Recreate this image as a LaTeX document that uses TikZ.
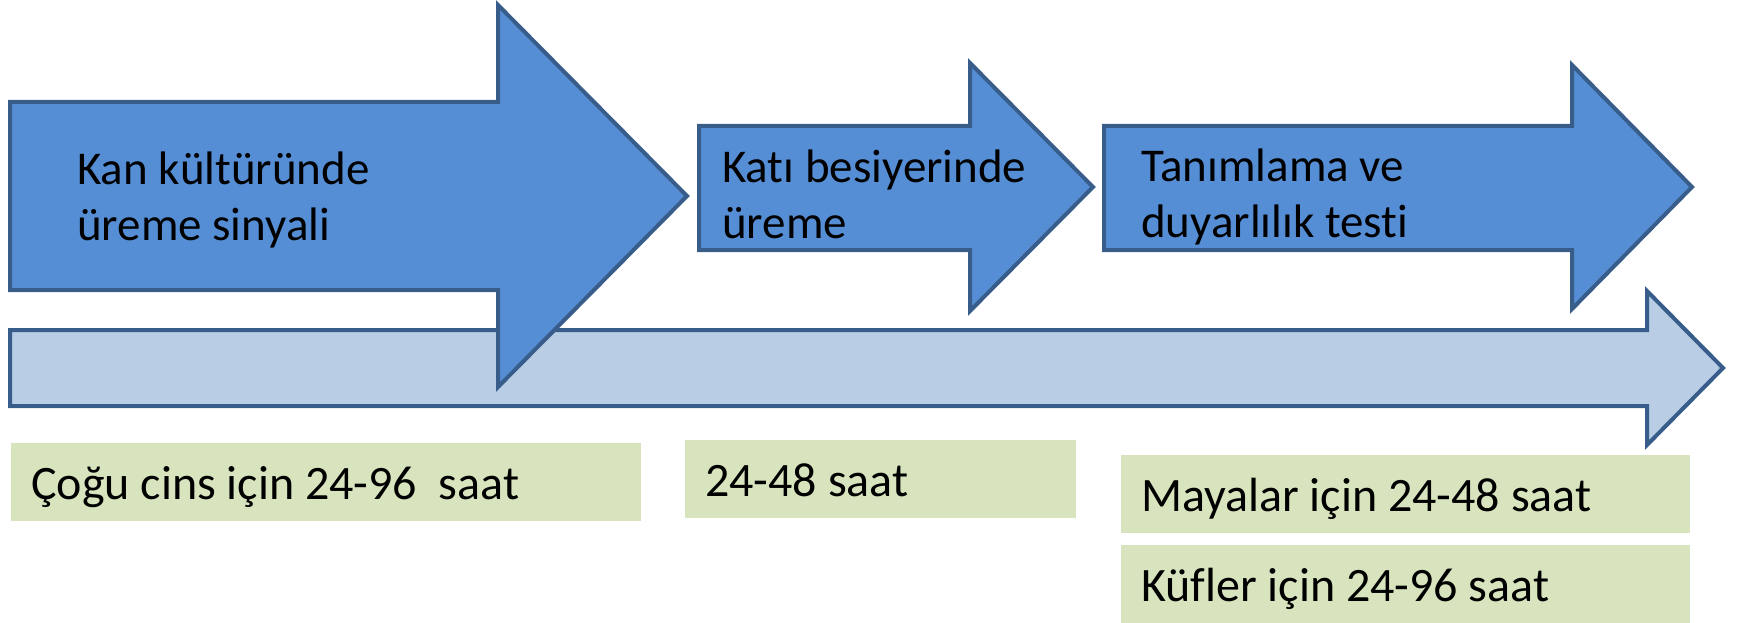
\documentclass[tikz,border=0pt]{standalone}
\usepackage{fontspec}
\setmainfont{Carlito}[Ligatures=NoCommon]
\definecolor{stepblue}{RGB}{85,142,213}
\definecolor{edgeblue}{RGB}{56,93,138}
\definecolor{lineblue}{RGB}{185,205,229}
\definecolor{timegreen}{RGB}{215,228,189}
\begin{document}
\begin{tikzpicture}[x=1pt, y=-1pt,
    bigarrow/.style={draw=edgeblue, line width=4pt, fill=stepblue},
    timeline/.style={draw=edgeblue, line width=4pt, fill=lineblue},
    steplbl/.style={anchor=base west, inner sep=0pt, align=left, font=\fontsize{47}{56}\selectfont},
    timebox/.style={fill=timegreen, anchor=north west, inner xsep=20pt, inner ysep=0pt,
      minimum height=78pt, text height=38pt, text depth=3pt, align=left,
      font=\fontsize{48}{57}\selectfont, execute at begin node={\spaceskip=0pt\xspaceskip=0pt}}]
  \useasboundingbox (0,0) rectangle (1739,623);
  \draw[timeline] (10,330) -- (1647,330) -- (1647,291) -- (1723,368) -- (1647,445) -- (1647,406) -- (10,406) -- cycle;
  \draw[bigarrow] (10,102) -- (498,102) -- (498,5) -- (687,196) -- (498,387) -- (498,290) -- (10,290) -- cycle;
  \draw[bigarrow] (699,126) -- (970,126) -- (970,63) -- (1093,187) -- (970,311) -- (970,250) -- (699,250) -- cycle;
  \draw[bigarrow] (1104,126) -- (1572,126) -- (1572,65) -- (1692,187) -- (1572,309) -- (1572,250) -- (1104,250) -- cycle;
  \node[steplbl] (kan) at (77,240) {Kan kültüründe\\üreme sinyali};
  \node[steplbl] (kati) at (722,238) {Katı besiyerinde\\üreme};
  \node[steplbl] (tanim) at (1141,237) {Tanımlama ve\\duyarlılık testi};
  \node[timebox, text width=590pt] (cogu) at (11,443) {Çoğu cins için 24-96~ saat};
  \node[timebox, text width=351pt] (kati48) at (685,440) {24-48 saat};
  \node[timebox, text width=529pt] (maya) at (1121,455) {Mayalar için 24-48 saat};
  \node[timebox, text width=529pt] (kuf) at (1121,545) {Küfler için 24-96 saat};
\end{tikzpicture}
\end{document}
